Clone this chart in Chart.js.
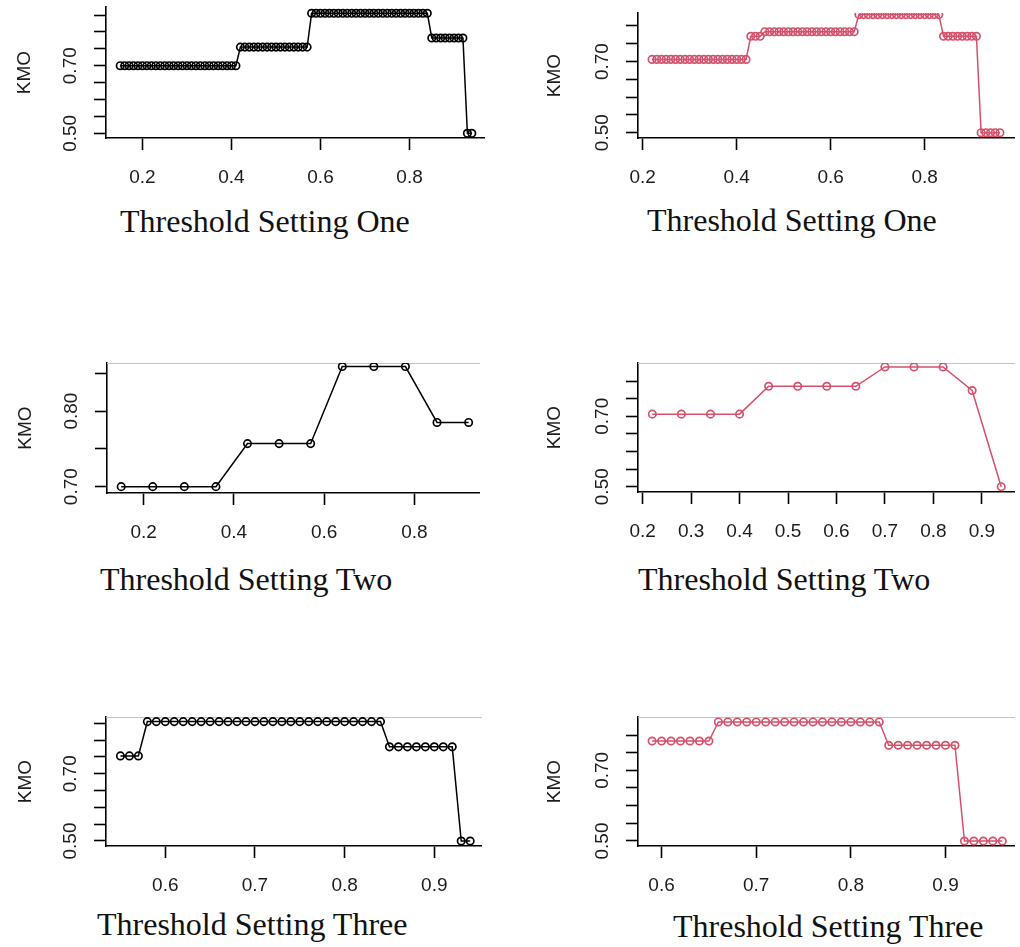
<!DOCTYPE html>
<html>
<head>
<meta charset="utf-8">
<title>KMO by threshold setting</title>
<script src="https://cdn.jsdelivr.net/npm/chart.js@4.4.1/dist/chart.umd.min.js"></script>
<style>
  html, body { margin: 0; padding: 0; background: #fff; }
  body { position: relative; width: 1020px; height: 947px; overflow: hidden; }
  canvas { position: absolute; }
  .caption {
    position: absolute;
    font-family: "Liberation Serif", "Times New Roman", serif;
    font-size: 32px;
    line-height: 32px;
    color: #111;
    white-space: nowrap;
  }
</style>
</head>
<body>
<div class="caption" style="left:120px; top:205px">Threshold Setting One</div>
<div class="caption" style="left:647px; top:204px">Threshold Setting One</div>
<div class="caption" style="left:100px; top:563px">Threshold Setting Two</div>
<div class="caption" style="left:638px; top:563px">Threshold Setting Two</div>
<div class="caption" style="left:97px; top:908px">Threshold Setting Three</div>
<div class="caption" style="left:673px; top:910px">Threshold Setting Three</div>

<script>
// KMO against threshold, six small R-style plots

// Setting one, left (black), step 0.01
const xOneLeft = [
  0.15, 0.16, 0.17, 0.18, 0.19, 0.20, 0.21, 0.22, 0.23, 0.24, 0.25, 0.26, 0.27, 0.28,
  0.29, 0.30, 0.31, 0.32, 0.33, 0.34, 0.35, 0.36, 0.37, 0.38, 0.39, 0.40, 0.41,
  0.42, 0.43, 0.44, 0.45, 0.46, 0.47, 0.48, 0.49, 0.50, 0.51, 0.52, 0.53, 0.54, 0.55, 0.56, 0.57,
  0.58, 0.59, 0.60, 0.61, 0.62, 0.63, 0.64, 0.65, 0.66, 0.67, 0.68, 0.69, 0.70, 0.71,
  0.72, 0.73, 0.74, 0.75, 0.76, 0.77, 0.78, 0.79, 0.80, 0.81, 0.82, 0.83, 0.84,
  0.85, 0.86, 0.87, 0.88, 0.89, 0.90, 0.91, 0.92,
  0.93, 0.94
];
const kmoOneLeft = [
  0.70, 0.70, 0.70, 0.70, 0.70, 0.70, 0.70, 0.70, 0.70, 0.70, 0.70, 0.70, 0.70, 0.70,
  0.70, 0.70, 0.70, 0.70, 0.70, 0.70, 0.70, 0.70, 0.70, 0.70, 0.70, 0.70, 0.70,
  0.755, 0.755, 0.755, 0.755, 0.755, 0.755, 0.755, 0.755, 0.755, 0.755, 0.755, 0.755, 0.755, 0.755, 0.755, 0.755,
  0.855, 0.855, 0.855, 0.855, 0.855, 0.855, 0.855, 0.855, 0.855, 0.855, 0.855, 0.855, 0.855, 0.855,
  0.855, 0.855, 0.855, 0.855, 0.855, 0.855, 0.855, 0.855, 0.855, 0.855, 0.855, 0.855, 0.855,
  0.782, 0.782, 0.782, 0.782, 0.782, 0.782, 0.782, 0.782,
  0.50, 0.50
];

// Setting one, right (red), step 0.01
const xOneRight = [
  0.22, 0.23, 0.24, 0.25, 0.26, 0.27, 0.28, 0.29, 0.30, 0.31, 0.32,
  0.33, 0.34, 0.35, 0.36, 0.37, 0.38, 0.39, 0.40, 0.41, 0.42,
  0.43, 0.44, 0.45,
  0.46, 0.47, 0.48, 0.49, 0.50, 0.51, 0.52, 0.53, 0.54, 0.55,
  0.56, 0.57, 0.58, 0.59, 0.60, 0.61, 0.62, 0.63, 0.64, 0.65,
  0.66, 0.67, 0.68, 0.69, 0.70, 0.71, 0.72, 0.73, 0.74,
  0.75, 0.76, 0.77, 0.78, 0.79, 0.80, 0.81, 0.82, 0.83,
  0.84, 0.85, 0.86, 0.87, 0.88, 0.89, 0.90, 0.91,
  0.92, 0.93, 0.94, 0.95, 0.96
];
const kmoOneRight = [
  0.706, 0.706, 0.706, 0.706, 0.706, 0.706, 0.706, 0.706, 0.706, 0.706, 0.706,
  0.706, 0.706, 0.706, 0.706, 0.706, 0.706, 0.706, 0.706, 0.706, 0.706,
  0.771, 0.771, 0.771,
  0.784, 0.784, 0.784, 0.784, 0.784, 0.784, 0.784, 0.784, 0.784, 0.784,
  0.784, 0.784, 0.784, 0.784, 0.784, 0.784, 0.784, 0.784, 0.784, 0.784,
  0.832, 0.832, 0.832, 0.832, 0.832, 0.832, 0.832, 0.832, 0.832,
  0.832, 0.832, 0.832, 0.832, 0.832, 0.832, 0.832, 0.832, 0.832,
  0.771, 0.771, 0.771, 0.771, 0.771, 0.771, 0.771, 0.771,
  0.50, 0.50, 0.50, 0.50, 0.50
];

// Setting two, left (black), step 0.07
const xTwoLeft = [0.15, 0.22, 0.29, 0.36, 0.43, 0.50, 0.57, 0.64, 0.71, 0.78, 0.85, 0.92];
const kmoTwoLeft = [0.70, 0.70, 0.70, 0.70, 0.757, 0.757, 0.757, 0.859, 0.859, 0.859, 0.785, 0.785];

// Setting two, right (red), step 0.06
const xTwoRight = [0.22, 0.28, 0.34, 0.40, 0.46, 0.52, 0.58, 0.64, 0.70, 0.76, 0.82, 0.88, 0.94];
const kmoTwoRight = [0.706, 0.706, 0.706, 0.706, 0.785, 0.785, 0.785, 0.785, 0.840, 0.840, 0.840, 0.773, 0.50];

// Setting three, left (black), step 0.01
const xThreeLeft = [
  0.55, 0.56, 0.57,
  0.58, 0.59, 0.60, 0.61, 0.62, 0.63, 0.64, 0.65, 0.66, 0.67, 0.68, 0.69, 0.70, 0.71,
  0.72, 0.73, 0.74, 0.75, 0.76, 0.77, 0.78, 0.79, 0.80, 0.81, 0.82, 0.83, 0.84,
  0.85, 0.86, 0.87, 0.88, 0.89, 0.90, 0.91, 0.92,
  0.93, 0.94
];
const kmoThreeLeft = [
  0.753, 0.753, 0.753,
  0.855, 0.855, 0.855, 0.855, 0.855, 0.855, 0.855, 0.855, 0.855, 0.855, 0.855, 0.855, 0.855, 0.855,
  0.855, 0.855, 0.855, 0.855, 0.855, 0.855, 0.855, 0.855, 0.855, 0.855, 0.855, 0.855, 0.855,
  0.780, 0.780, 0.780, 0.780, 0.780, 0.780, 0.780, 0.780,
  0.50, 0.50
];

// Setting three, right (red), step 0.01
const xThreeRight = [
  0.59, 0.60, 0.61, 0.62, 0.63, 0.64, 0.65,
  0.66, 0.67, 0.68, 0.69, 0.70, 0.71, 0.72, 0.73, 0.74,
  0.75, 0.76, 0.77, 0.78, 0.79, 0.80, 0.81, 0.82, 0.83,
  0.84, 0.85, 0.86, 0.87, 0.88, 0.89, 0.90, 0.91,
  0.92, 0.93, 0.94, 0.95, 0.96
];
const kmoThreeRight = [
  0.783, 0.783, 0.783, 0.783, 0.783, 0.783, 0.783,
  0.837, 0.837, 0.837, 0.837, 0.837, 0.837, 0.837, 0.837, 0.837,
  0.837, 0.837, 0.837, 0.837, 0.837, 0.837, 0.837, 0.837, 0.837,
  0.771, 0.771, 0.771, 0.771, 0.771, 0.771, 0.771, 0.771,
  0.50, 0.50, 0.50, 0.50, 0.50
];

// Tick positions and labels
const xTicksWide = [0.2, 0.4, 0.6, 0.8];
const xTicksTenths = [0.2, 0.3, 0.4, 0.5, 0.6, 0.7, 0.8, 0.9];
const xTicksHigh = [0.6, 0.7, 0.8, 0.9];
const yTicksTall = [0.50, 0.55, 0.60, 0.65, 0.70, 0.75, 0.80, 0.85];
const yLabelsTall = ['0.50', '', '', '', '0.70', '', '', ''];
const yTicksShort = [0.50, 0.55, 0.60, 0.65, 0.70, 0.75, 0.80];
const yLabelsShort = ['0.50', '', '', '', '0.70', '', ''];
const yTicksNarrow = [0.70, 0.75, 0.80, 0.85];
const yLabelsNarrow = ['0.70', '', '0.80', ''];

const SANS = '"Liberation Sans", Arial, Helvetica, sans-serif';
const INK = '#000';
const ROSE = '#d6506b';
const LABEL = '#1c1c1c';
const FONT_SIZE = 19;
const AXIS_W = 100;   // room left of the plot for tick labels + "KMO"
const AXIS_H = 60;    // room under the plot for x tick labels
const TICK_LEN = 12;

// measure the widest y label so rotated labels can be centred at a fixed gap
const measure = document.createElement('canvas').getContext('2d');
measure.font = FONT_SIZE + 'px ' + SANS;
const yLabelWidth = measure.measureText('0.50').width;

const panels = [
  { xs: xOneLeft, ys: kmoOneLeft, color: INK, area: { left: 106, top: 7, right: 487, bottom: 138 },
    xRange: [0.1181, 0.968], yRange: [0.4861, 0.8737], xTicks: xTicksWide,
    yTicks: yTicksTall, yLabels: yLabelsTall, topLine: false, kmoGap: 81 },
  { xs: xOneRight, ys: kmoOneRight, color: ROSE, area: { left: 638, top: 13, right: 1019, bottom: 138 },
    xRange: [0.1901, 0.9906], yRange: [0.4851, 0.8365], xTicks: xTicksWide,
    yTicks: yTicksShort, yLabels: yLabelsShort, topLine: false, kmoGap: 83 },
  { xs: xTwoLeft, ys: kmoTwoLeft, color: INK, area: { left: 107, top: 363, right: 482, bottom: 493 },
    xRange: [0.1186, 0.9437], yRange: [0.6916, 0.8637], xTicks: xTicksWide,
    yTicks: yTicksNarrow, yLabels: yLabelsNarrow, topLine: true, kmoGap: 81 },
  { xs: xTwoRight, ys: kmoTwoRight, color: ROSE, area: { left: 638, top: 363, right: 1017, bottom: 492 },
    xRange: [0.1904, 0.967], yRange: [0.485, 0.8511], xTicks: xTicksTenths,
    yTicks: yTicksShort, yLabels: yLabelsShort, topLine: true, kmoGap: 83 },
  { xs: xThreeLeft, ys: kmoThreeLeft, color: INK, area: { left: 106, top: 717, right: 484, bottom: 846 },
    xRange: [0.5339, 0.9524], yRange: [0.4851, 0.8687], xTicks: xTicksHigh,
    yTicks: yTicksTall, yLabels: yLabelsTall, topLine: true, kmoGap: 80 },
  { xs: xThreeRight, ys: kmoThreeRight, color: ROSE, area: { left: 638, top: 717, right: 1017, bottom: 846 },
    xRange: [0.5751, 0.9727], yRange: [0.4858, 0.851], xTicks: xTicksHigh,
    yTicks: yTicksShort, yLabels: yLabelsShort, topLine: true, kmoGap: 83 }
];

function makePanel(p) {
  const a = p.area;
  const padTop = Math.min(10, a.top);
  const left = a.left - AXIS_W;
  const top = a.top - padTop;
  const right = Math.min(a.right + 3, 1020);
  const bottom = a.bottom + AXIS_H;

  const canvas = document.createElement('canvas');
  canvas.width = right - left;
  canvas.height = bottom - top;
  canvas.style.left = left + 'px';
  canvas.style.top = top + 'px';
  canvas.style.width = canvas.width + 'px';
  canvas.style.height = canvas.height + 'px';
  document.body.appendChild(canvas);

  const font = { family: SANS, size: FONT_SIZE };
  const lineH = FONT_SIZE * 1.2;

  const scales = {
    x: {
      type: 'linear',
      position: 'bottom',
      min: p.xRange[0],
      max: p.xRange[1],
      afterBuildTicks: s => { s.ticks = p.xTicks.map(v => ({ value: v })); },
      afterFit: s => { s.height = AXIS_H; s.paddingLeft = 0; s.paddingRight = 0; },
      ticks: {
        autoSkip: false, minRotation: 0, maxRotation: 0,
        padding: 39.5 - TICK_LEN - lineH / 2,
        color: LABEL, font: font,
        callback: (v, i) => p.xTicks[i].toFixed(1)
      },
      grid: { drawOnChartArea: false, drawTicks: true, tickLength: TICK_LEN, tickColor: INK, tickWidth: 1.6 },
      border: { display: true, color: INK, width: 1.6 }
    },
    y: {
      type: 'linear',
      position: 'left',
      min: p.yRange[0],
      max: p.yRange[1],
      afterBuildTicks: s => { s.ticks = p.yTicks.map(v => ({ value: v })); },
      afterFit: s => { s.width = AXIS_W; s.paddingTop = 0; s.paddingBottom = 0; },
      ticks: {
        autoSkip: false, minRotation: 90, maxRotation: 90,
        crossAlign: 'center',
        padding: 35 - TICK_LEN - yLabelWidth / 2,
        color: LABEL, font: font,
        callback: (v, i) => p.yLabels[i]
      },
      grid: { drawOnChartArea: false, drawTicks: true, tickLength: TICK_LEN, tickColor: INK, tickWidth: 1.6 },
      border: { display: true, color: INK, width: 1.6 },
      title: {
        display: true, text: 'KMO', color: LABEL, font: font,
        padding: { top: AXIS_W - p.kmoGap - lineH / 2, bottom: 0 }
      }
    }
  };

  if (p.topLine) {
    // faint frame line along the top of the plot region
    scales.x2 = {
      type: 'linear',
      position: 'top',
      display: true,
      min: p.xRange[0],
      max: p.xRange[1],
      afterFit: s => { s.height = 0; s.paddingLeft = 0; s.paddingRight = 0; },
      ticks: { display: false },
      grid: { display: false, drawTicks: false },
      border: { display: true, color: '#c4c4c4', width: 1 }
    };
  }

  return new Chart(canvas, {
    type: 'line',
    data: {
      datasets: [{
        data: p.xs.map((x, i) => ({ x: x, y: p.ys[i] })),
        borderColor: p.color,
        borderWidth: 1.5,
        tension: 0,
        fill: false,
        clip: 0,
        pointStyle: 'circle',
        pointRadius: 3.7,
        pointBorderWidth: 1.7,
        pointBorderColor: p.color,
        pointBackgroundColor: 'rgba(0,0,0,0)'
      }]
    },
    options: {
      responsive: false,
      animation: false,
      events: [],
      layout: { padding: { top: padTop, left: 0, right: right - a.right, bottom: 0 } },
      plugins: { legend: { display: false }, tooltip: { enabled: false } },
      scales: scales
    }
  });
}

panels.forEach(makePanel);
</script>
</body>
</html>
